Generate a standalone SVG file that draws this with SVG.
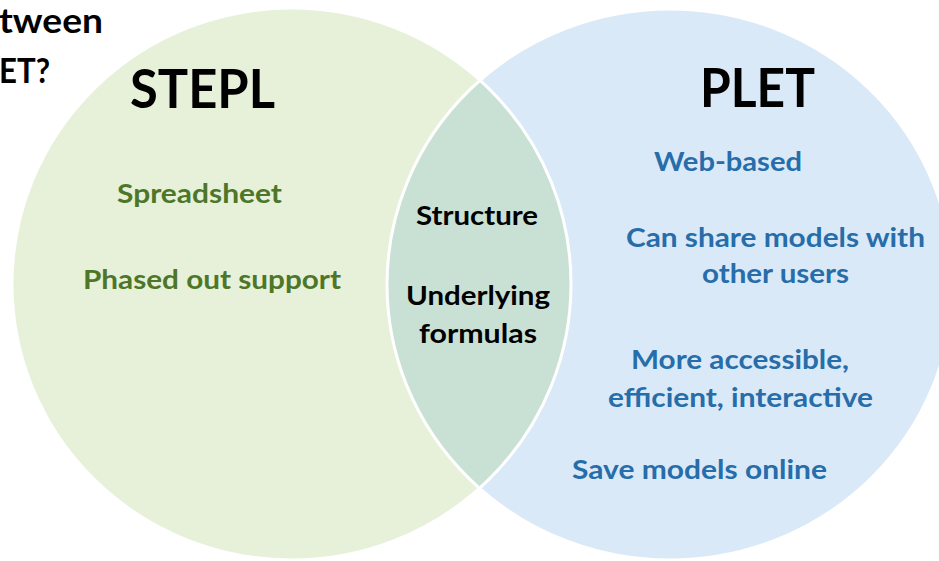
<svg xmlns="http://www.w3.org/2000/svg" xmlns:xlink="http://www.w3.org/1999/xlink" width="939" height="561" viewBox="0 0 939 561">
  <style>
    .t{font-family:Lato,"Liberation Sans",sans-serif;font-weight:700}
    .title{font-size:35px;fill:#000}
    .head{font-size:53px;fill:#000}
    .item{font-size:27px}
    .g{fill:#4E7628}
    .b{fill:#266DAA}
    .k{fill:#000}
    .edge{fill:none;stroke:#fff;stroke-width:3}
  </style>
  <defs>
    <clipPath id="left-clip">
      <ellipse cx="291.5" cy="284" rx="279.5" ry="276"/>
    </clipPath>
  </defs>

  <rect width="939" height="561" fill="#fff"/>

  <!-- partial heading text at the top-left corner -->
  <g id="heading">
    <text class="t title" x="103" y="33" text-anchor="end" textLength="104" lengthAdjust="spacingAndGlyphs">tween</text>
    <text class="t title" x="50" y="83" text-anchor="end" textLength="51" lengthAdjust="spacingAndGlyphs">ET?</text>
  </g>

  <!-- STEPL set -->
  <g id="stepl">
    <ellipse cx="291.5" cy="284" rx="279.5" ry="276" fill="#E7F1DA"/>
  </g>

  <!-- PLET set -->
  <g id="plet">
    <ellipse cx="670" cy="284.5" rx="283" ry="275.5" fill="#DAE9F7"/>
  </g>

  <!-- overlap of both sets -->
  <g id="overlap">
    <ellipse cx="670" cy="284.5" rx="283" ry="275.5" fill="#C9E1D5" clip-path="url(#left-clip)"/>
  </g>

  <!-- white outlines of both sets -->
  <g id="outlines">
    <ellipse class="edge" cx="291.5" cy="284" rx="279.5" ry="276"/>
    <ellipse class="edge" cx="670" cy="284.5" rx="283" ry="275.5"/>
  </g>

  <g id="stepl-labels">
    <text class="t head" x="130" y="108" textLength="145" lengthAdjust="spacingAndGlyphs">STEPL</text>
    <text class="t item g" x="117" y="203" textLength="165" lengthAdjust="spacingAndGlyphs">Spreadsheet</text>
    <text class="t item g" x="83" y="289" textLength="258" lengthAdjust="spacingAndGlyphs">Phased out support</text>
  </g>

  <g id="overlap-labels">
    <text class="t item k" x="416" y="225" textLength="122" lengthAdjust="spacingAndGlyphs">Structure</text>
    <text class="t item k" x="406" y="305" textLength="144" lengthAdjust="spacingAndGlyphs">Underlying</text>
    <text class="t item k" x="419" y="343" textLength="118" lengthAdjust="spacingAndGlyphs">formulas</text>
  </g>

  <g id="plet-labels">
    <text class="t head" x="700" y="107" textLength="115" lengthAdjust="spacingAndGlyphs">PLET</text>
    <text class="t item b" x="654" y="171" textLength="148" lengthAdjust="spacingAndGlyphs">Web-based</text>
    <text class="t item b" x="626" y="247" textLength="299" lengthAdjust="spacingAndGlyphs">Can share models with</text>
    <text class="t item b" x="702" y="283" textLength="147" lengthAdjust="spacingAndGlyphs">other users</text>
    <text class="t item b" x="631" y="369" textLength="218" lengthAdjust="spacingAndGlyphs">More accessible,</text>
    <text class="t item b" x="608" y="407" textLength="265" lengthAdjust="spacingAndGlyphs">efficient, interactive</text>
    <text class="t item b" x="572" y="479" textLength="255" lengthAdjust="spacingAndGlyphs">Save models online</text>
  </g>
</svg>
